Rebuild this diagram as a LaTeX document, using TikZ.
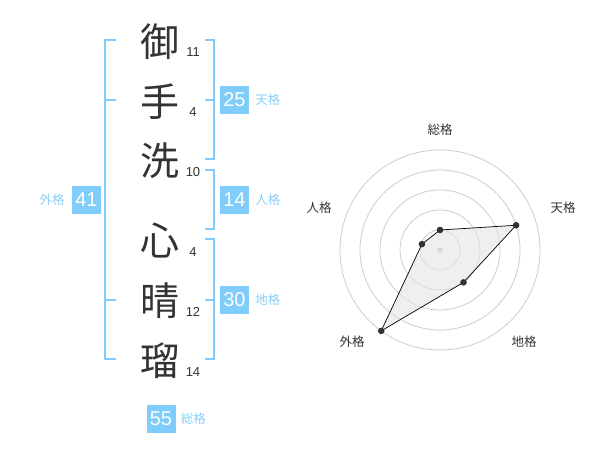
\documentclass[tikz,border=0pt]{standalone}
\usepackage{fontspec}
\setmainfont{Liberation Sans}
\newfontfamily\cjk{Noto Sans CJK JP}
\usetikzlibrary{positioning}
\definecolor{kakublue}{RGB}{128,204,250}
\definecolor{kakutext}{RGB}{140,205,245}
\definecolor{inkgray}{RGB}{51,51,51}
\definecolor{ringgray}{RGB}{204,204,204}
\begin{document}
\begin{tikzpicture}[x=1pt, y=-1pt,
    kanji/.style={font=\cjk\fontsize{39}{39}\selectfont, text=inkgray, inner sep=0pt},
    strokes/.style={font=\fontsize{13}{13}\selectfont, text=inkgray, inner sep=0pt},
    kakubox/.style={fill=kakublue, text=white, font=\fontsize{20}{20}\selectfont,
      minimum width=29pt, minimum height=28pt, inner sep=0pt},
    kakuname/.style={font=\cjk\fontsize{12.5}{12.5}\selectfont, text=kakutext, inner sep=0pt},
    bracket/.style={draw=kakublue, line width=2pt},
    axisname/.style={font=\cjk\fontsize{12.5}{12.5}\selectfont, text=inkgray, inner sep=0pt}]
  \path[use as bounding box] (0,0) rectangle (600,470);

  % name, column of characters
  \node[kanji] (c1) at (160,42) {御};
  \node[kanji] (c2) at (160,102) {手};
  \node[kanji] (c3) at (160,161) {洗};
  \node[kanji] (c4) at (160,241) {心};
  \node[kanji] (c5) at (160,301) {晴};
  \node[kanji] (c6) at (160,361) {瑠};
  \node[strokes] (s1) at (193,52) {11};
  \node[strokes] (s2) at (193,112) {4};
  \node[strokes] (s3) at (193,172) {10};
  \node[strokes] (s4) at (193,252) {4};
  \node[strokes] (s5) at (193,312) {12};
  \node[strokes] (s6) at (193,372) {14};

  % brackets
  \draw[bracket] (116,40) -- (105,40) -- (105,359) -- (116,359);
  \draw[bracket] (105,100) -- (116,100) (105,300) -- (116,300);
  \draw[bracket] (205,40) -- (214,40) -- (214,159) -- (205,159) (214,100) -- (205,100);
  \draw[bracket] (205,170) -- (214,170) -- (214,229) -- (205,229);
  \draw[bracket] (205,239) -- (214,239) -- (214,359) -- (205,359) (214,300) -- (205,300);

  \node[kakubox] (gai) at (86.5,200) {41};
  \node[kakuname, left=7pt of gai] (gain) {外格};
  \node[kakubox] (ten) at (234.5,100) {25};
  \node[kakuname, right=6pt of ten] (tenn) {天格};
  \node[kakubox] (jin) at (234.5,200) {14};
  \node[kakuname, right=6pt of jin] (jinn) {人格};
  \node[kakubox] (chi) at (234.5,300) {30};
  \node[kakuname, right=6pt of chi] (chin) {地格};
  \node[kakubox] (sou) at (161,419) {55};
  \node[kakuname, right=5pt of sou] (soun) {総格};

  % radar
  \begin{scope}[shift={(440,250)}]
    \foreach \r in {20,40,...,100} {
      \draw[ringgray, line width=0.8pt] (0,0) circle[radius=\r pt];
    }
    \fill[ringgray] (0,0) circle[radius=3pt];
    \coordinate (p1) at (90:20pt);
    \coordinate (p2) at (18:80pt);
    \coordinate (p3) at (-54:40pt);
    \coordinate (p4) at (-126:100pt);
    \coordinate (p5) at (162:19pt);
    \filldraw[fill=black!10, fill opacity=0.6, draw=black, line width=0.7pt]
      (p1) -- (p2) -- (p3) -- (p4) -- (p5) -- cycle;
    \foreach \p in {p1,p2,p3,p4,p5} {
      \fill[inkgray] (\p) circle[radius=3.3pt];
    }
    \node[axisname] (a1) at (0,-120) {総格};
    \node[axisname] (a2) at (123,-42) {天格};
    \node[axisname] (a3) at (84,92) {地格};
    \node[axisname] (a4) at (-88,92) {外格};
    \node[axisname] (a5) at (-121,-42) {人格};
  \end{scope}
\end{tikzpicture}
\end{document}
